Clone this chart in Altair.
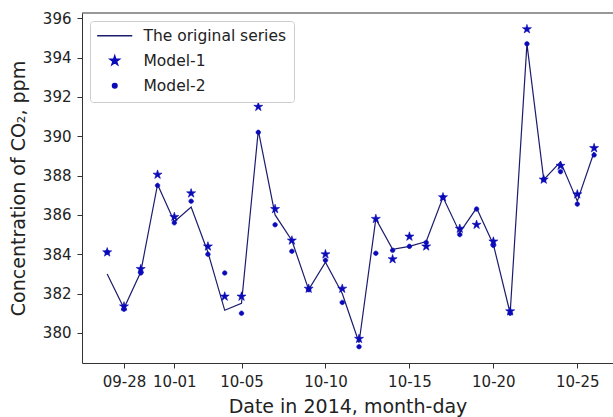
import altair as alt
import pandas as pd

dates = [
    "2014-09-27", "2014-09-28", "2014-09-29", "2014-09-30", "2014-10-01",
    "2014-10-02", "2014-10-03", "2014-10-04", "2014-10-05", "2014-10-06",
    "2014-10-07", "2014-10-08", "2014-10-09", "2014-10-10", "2014-10-11",
    "2014-10-12", "2014-10-13", "2014-10-14", "2014-10-15", "2014-10-16",
    "2014-10-17", "2014-10-18", "2014-10-19", "2014-10-20", "2014-10-21",
    "2014-10-22", "2014-10-23", "2014-10-24", "2014-10-25", "2014-10-26",
]
original = [
    383.0, 381.25, 383.1, 387.55, 385.65, 386.4, 384.1, 381.15, 381.5, 390.3,
    386.0, 384.7, 382.2, 383.6, 382.0, 379.5, 385.8, 384.25, 384.4, 384.65,
    386.9, 385.1, 386.35, 384.5, 381.0, 394.7, 387.8, 388.7, 386.7, 389.2,
]
model1 = [
    384.1, 381.35, 383.25, 388.05, 385.9, 387.1, 384.4, 381.85, 381.85, 391.5,
    386.3, 384.7, 382.25, 384.0, 382.25, 379.7, 385.8, 383.75, 384.9, 384.4,
    386.9, 385.3, 385.5, 384.65, 381.1, 395.45, 387.8, 388.5, 387.05, 389.4,
]
model2 = [
    384.1, 381.2, 383.05, 387.5, 385.6, 386.7, 384.0, 383.05, 381.0, 390.2,
    385.5, 384.15, 382.2, 383.7, 381.55, 379.3, 384.05, 384.2, 384.4, 384.6,
    386.9, 385.0, 386.3, 384.45, 381.0, 394.7, 387.8, 388.2, 386.55, 389.05,
]
series_names = ["The original series", "Model-1", "Model-2"]
y_ticks = [380, 382, 384, 386, 388, 390, 392, 394, 396]
x_tick_days = [(9, 28), (10, 1), (10, 5), (10, 10), (10, 15), (10, 20), (10, 25)]

line_df = pd.DataFrame({"date": dates, "value": original, "series": series_names[0]})
pts_df = pd.concat([
    pd.DataFrame({"date": dates, "value": model1, "series": series_names[1]}),
    pd.DataFrame({"date": dates, "value": model2, "series": series_names[2]}),
])

FONT = "DejaVu Sans"
LINE_C = "#1c1c6e"
MARK_C = "#0a0ab8"
STAR = ("M0,-1L0.2245,-0.309L0.951,-0.309L0.363,0.118L0.588,0.809L0,0.382"
        "L-0.588,0.809L-0.363,0.118L-0.951,-0.309L-0.2245,-0.309Z")
DOT = "M0.48,0A0.48,0.48,0,1,1,-0.48,0A0.48,0.48,0,1,1,0.48,0Z"
LINESYM = "M-3.7,0L3.7,0"
SIZE = 90

W, H = 531, 350

x_enc = alt.X(
    "date:T",
    scale=alt.Scale(
        type="utc",
        domain=[alt.DateTime(year=2014, month=9, date=25, hours=12, utc=True),
                alt.DateTime(year=2014, month=10, date=27, hours=3, utc=True)],
    ),
    axis=alt.Axis(
        title="Date in 2014, month-day",
        values=[alt.DateTime(year=2014, month=m, date=d, utc=True) for m, d in x_tick_days],
        format="%m-%d", grid=False, labelPadding=6, titlePadding=8,
    ),
)
y_enc = alt.Y(
    "value:Q",
    scale=alt.Scale(domain=[378.47, 396.27], nice=False, zero=False),
    axis=alt.Axis(title="Concentration of CO₂, ppm", values=y_ticks, grid=False,
                  labelPadding=6, titlePadding=14),
)

legend = alt.Legend(
    title=None, orient="top-left", offset=8, padding=7,
    strokeColor="#cccccc", fillColor="white", cornerRadius=3,
    labelFont=FONT, labelFontSize=15.5, labelColor="#222222",
    symbolOffset=10, labelOffset=21, rowPadding=8,
    symbolStrokeWidth=1.5, symbolSize=SIZE,
)
shape_scale = alt.Scale(domain=series_names, range=[LINESYM, STAR, DOT])
fill_scale = alt.Scale(domain=series_names, range=[LINE_C, MARK_C, MARK_C])
stroke_scale = alt.Scale(domain=series_names, range=[LINE_C, MARK_C, MARK_C])

line = alt.Chart(line_df).mark_line(strokeWidth=1.2).encode(
    x=x_enc, y=y_enc,
    stroke=alt.Stroke("series:N", scale=stroke_scale, legend=legend),
)
pts = alt.Chart(pts_df).mark_point(filled=True, size=SIZE, opacity=1, strokeWidth=0.6).encode(
    x=x_enc, y=y_enc,
    shape=alt.Shape("series:N", scale=shape_scale, legend=legend),
    fill=alt.Fill("series:N", scale=fill_scale, legend=legend),
    stroke=alt.Stroke("series:N", scale=stroke_scale, legend=legend),
)
top = alt.Chart(pd.DataFrame({"a": [0]})).mark_rule(color="#333333", strokeWidth=1).encode(
    y=alt.value(0), x=alt.value(0), x2=alt.value(W)
)

chart = alt.layer(line, pts, top).properties(
    width=W, height=H,
    background="white",
    autosize=alt.AutoSizeParams(type="none"),
    padding={"left": 82, "top": 13, "right": 0, "bottom": 54},
).configure_view(strokeWidth=0).configure_axis(
    labelFont=FONT, titleFont=FONT, labelFontSize=15, titleFontSize=19,
    labelColor="#222222", titleColor="#222222", titleFontWeight="normal",
    domainColor="#333333", tickColor="#333333", tickSize=5, domainWidth=1,
)

chart.save("out.html", embed_options={"renderer": "svg", "actions": False})
